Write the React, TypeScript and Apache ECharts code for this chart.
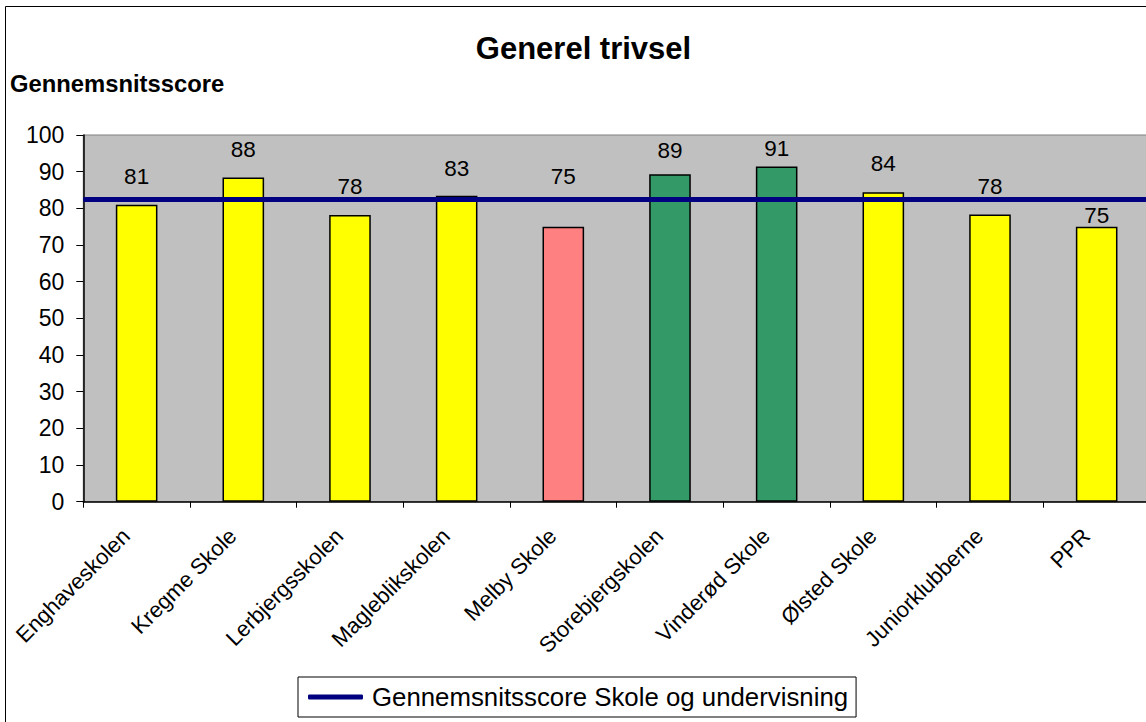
import React, { useEffect, useRef } from "react";
import * as echarts from "echarts";

const categories = [
  "Enghaveskolen",
  "Kregme Skole",
  "Lerbjergsskolen",
  "Magleblikskolen",
  "Melby Skole",
  "Storebjergskolen",
  "Vinderød Skole",
  "Ølsted Skole",
  "Juniorklubberne",
  "PPR",
];
const scores = [81, 88.4, 78.2, 83.4, 75, 89.3, 91.4, 84.4, 78.3, 75];
const barColors = [
  "#FFFF00", "#FFFF00", "#FFFF00", "#FFFF00", "#FF8080",
  "#339966", "#339966", "#FFFF00", "#FFFF00", "#FFFF00",
];
const averageName = "Gennemsnitsscore Skole og undervisning";
const averageScore = 82.5;
const yTicks = { min: 0, max: 100, interval: 10 };
const titleText = "Generel trivsel";
const yAxisTitle = "Gennemsnitsscore";

const FONT = "'Liberation Sans', Arial, Helvetica, sans-serif";

// label placement (pixels above bar top), as placed in the original chart
const labelDistances = [17, 17, 17, 16, 39, 12, 7, 17, 17, 0];

export default function App() {
  const ref = useRef<HTMLDivElement>(null);
  useEffect(() => {
    if (!ref.current) return;
    const chart = echarts.init(ref.current, undefined, { renderer: "svg" });
    chart.setOption({
      animation: false,
      backgroundColor: "#FFFFFF",
      textStyle: { fontFamily: FONT },
      graphic: [
        {
          type: "rect",
          shape: { x: 5.5, y: 6.5, width: 1300, height: 900 },
          style: { fill: "none", stroke: "#000000", lineWidth: 1 },
          z: 0,
        },
        {
          type: "text",
          x: 583.5,
          y: 48.5,
          style: {
            text: titleText,
            fontFamily: FONT,
            fontSize: 31,
            fontWeight: "bold",
            fill: "#000000",
            align: "center",
            verticalAlign: "middle",
          },
        },
        {
          type: "text",
          x: 10,
          y: 83,
          style: {
            text: yAxisTitle,
            fontFamily: FONT,
            fontSize: 23.8,
            fontWeight: "bold",
            fill: "#000000",
            align: "left",
            verticalAlign: "middle",
          },
        },
      ],
      legend: {
        left: 298,
        top: 677,
        orient: "horizontal",
        borderColor: "#000000",
        borderWidth: 1,
        padding: [7, 8, 7, 10],
        itemWidth: 55,
        itemHeight: 5,
        backgroundColor: "#FFFFFF",
        textStyle: {
          fontFamily: FONT,
          fontSize: 25.8,
          color: "#000000",
          padding: [0, 0, 0, 4],
        },
        data: [{ name: averageName, icon: "roundRect" }],
      },
      grid: {
        left: 83.3,
        top: 135,
        right: 1160 - 1150,
        bottom: 722 - 501.7,
        show: true,
        backgroundColor: "#C0C0C0",
        borderColor: "#808080",
        borderWidth: 1,
        containLabel: false,
      },
      xAxis: {
        type: "category",
        data: categories,
        boundaryGap: true,
        axisLine: { show: true, lineStyle: { color: "#000000", width: 1.5 } },
        axisTick: { show: true, length: 6, lineStyle: { color: "#000000" } },
        axisLabel: {
          rotate: 45,
          interval: 0,
          margin: 20,
          padding: [0, 15, 0, 0],
          fontFamily: FONT,
          fontSize: 22,
          color: "#000000",
        },
      },
      yAxis: {
        type: "value",
        min: yTicks.min,
        max: yTicks.max,
        interval: yTicks.interval,
        splitLine: { show: false },
        axisLine: { show: true, lineStyle: { color: "#000000", width: 1.5 } },
        axisTick: { show: true, length: 7, lineStyle: { color: "#000000" } },
        axisLabel: {
          margin: 19,
          fontFamily: FONT,
          fontSize: 23,
          color: "#000000",
        },
      },
      series: [
        {
          type: "bar",
          name: "Score",
          barWidth: "39%",
          data: scores.map((v, i) => ({
            value: v,
            itemStyle: { color: barColors[i] },
            label: { distance: labelDistances[i] },
          })),
          itemStyle: { borderColor: "#000000", borderWidth: 1.5 },
          label: {
            show: true,
            position: "top",
            fontFamily: FONT,
            fontSize: 22.5,
            color: "#000000",
            formatter: (p: any) => String(Math.round(p.value)),
          },
          z: 2,
        },
        {
          type: "line",
          name: averageName,
          data: [],
          itemStyle: { color: "#000080" },
          lineStyle: { color: "#000080", width: 5 },
          markLine: {
            silent: true,
            symbol: "none",
            label: { show: false },
            lineStyle: { color: "#000080", width: 5, type: "solid" },
            data: [{ yAxis: averageScore }],
          },
          z: 5,
        },
      ],
    });
    return () => chart.dispose();
  }, []);
  return (
    <div
      ref={ref}
      style={{ position: "fixed", left: 0, top: 0, width: 1160, height: 722 }}
    />
  );
}
